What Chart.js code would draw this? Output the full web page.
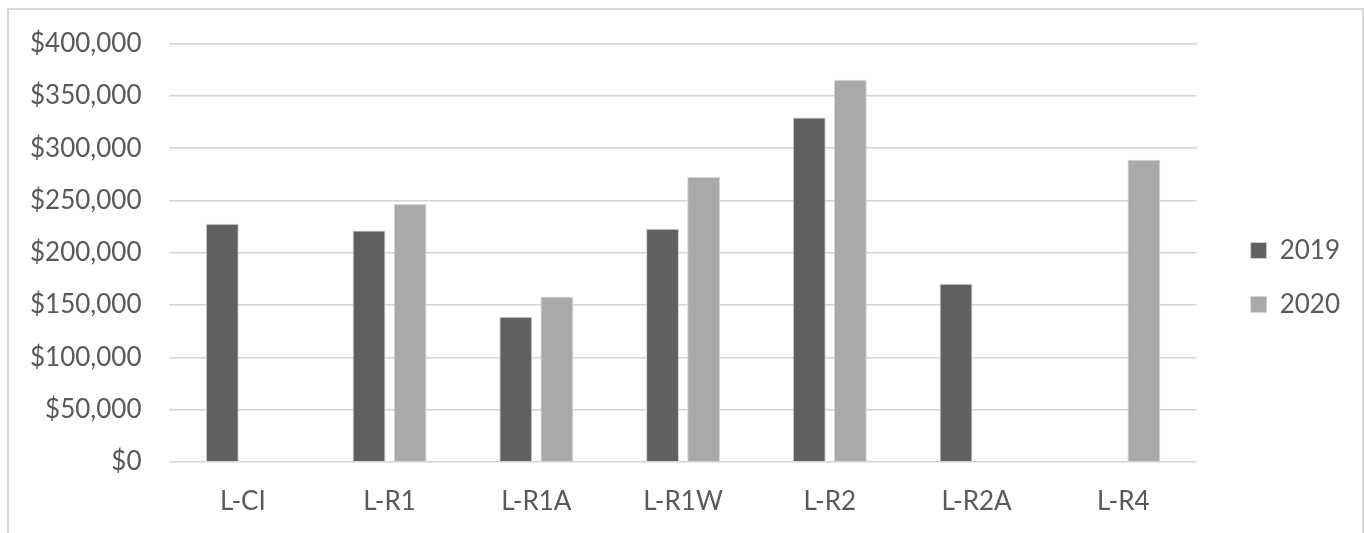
<!DOCTYPE html>
<html>
<head>
<meta charset="utf-8">
<script src="https://cdn.jsdelivr.net/npm/chart.js@4"></script>
<style>
  html, body { margin: 0; padding: 0; background: #fff; overflow: hidden; }
  .frame {
    position: absolute;
    left: 7px; top: 8px;
    width: 1353px; height: 540px;
    border: 2px solid #d9d9d9;
  }
  .plot {
    position: absolute;
    left: 0; top: 0;
    width: 1364px; height: 540px;
  }
</style>
</head>
<body>
<div class="frame"></div>
<div class="plot"><canvas id="chart"></canvas></div>
<script>
// ── Data ───────────────────────────────────────────
const zones = ['L-CI', 'L-R1', 'L-R1A', 'L-R1W', 'L-R2', 'L-R2A', 'L-R4'];
const values2019 = [227600, 221200, 138800, 222800, 329300, 170400, null];
const values2020 = [null, 246700, 158000, 272300, 365400, null, 288800];
const yTicks = [0, 50000, 100000, 150000, 200000, 250000, 300000, 350000, 400000];

const textGray = '#595959';
const gridGray = '#d4d4d4';
const font = { family: 'Lato, "Open Sans", sans-serif', size: 26 };

const money = v => '$' + Number(v).toLocaleString('en-US');

// ── Chart ──────────────────────────────────────────
new Chart(document.getElementById('chart'), {
  type: 'bar',
  data: {
    labels: zones,
    datasets: [
      {
        label: '2019',
        data: values2019,
        backgroundColor: '#606060',
        borderColor: '#d0d0d0',
        borderWidth: 1,
        categoryPercentage: 0.56,
        barPercentage: 0.8
      },
      {
        label: '2020',
        data: values2020,
        backgroundColor: '#a9a9a9',
        borderColor: '#d6d6d6',
        borderWidth: 1,
        categoryPercentage: 0.56,
        barPercentage: 0.8
      }
    ]
  },
  options: {
    responsive: true,
    maintainAspectRatio: false,
    animation: false,
    layout: { padding: { left: 2, right: 14, top: 22, bottom: 7 } },
    plugins: {
      tooltip: { enabled: false },
      legend: {
        position: 'right',
        labels: {
          color: textGray,
          font: font,
          boxWidth: 16,
          boxHeight: 16,
          padding: 28
        }
      }
    },
    scales: {
      x: {
        grid: { display: false },
        border: { display: false },
        ticks: { color: textGray, font: font, padding: 16 }
      },
      y: {
        min: 0,
        max: 400000,
        afterBuildTicks: axis => { axis.ticks = yTicks.map(v => ({ value: v })); },
        grid: { color: gridGray, lineWidth: 1.5, drawTicks: false },
        border: { display: false },
        ticks: { color: textGray, font: font, padding: 28, callback: money }
      },
      // empty strip between the plot and the legend
      gap: {
        position: 'right',
        display: true,
        grid: { display: false },
        border: { display: false },
        ticks: { display: false },
        afterFit: scale => { scale.width = 26; }
      }
    }
  }
});
</script>
</body>
</html>
